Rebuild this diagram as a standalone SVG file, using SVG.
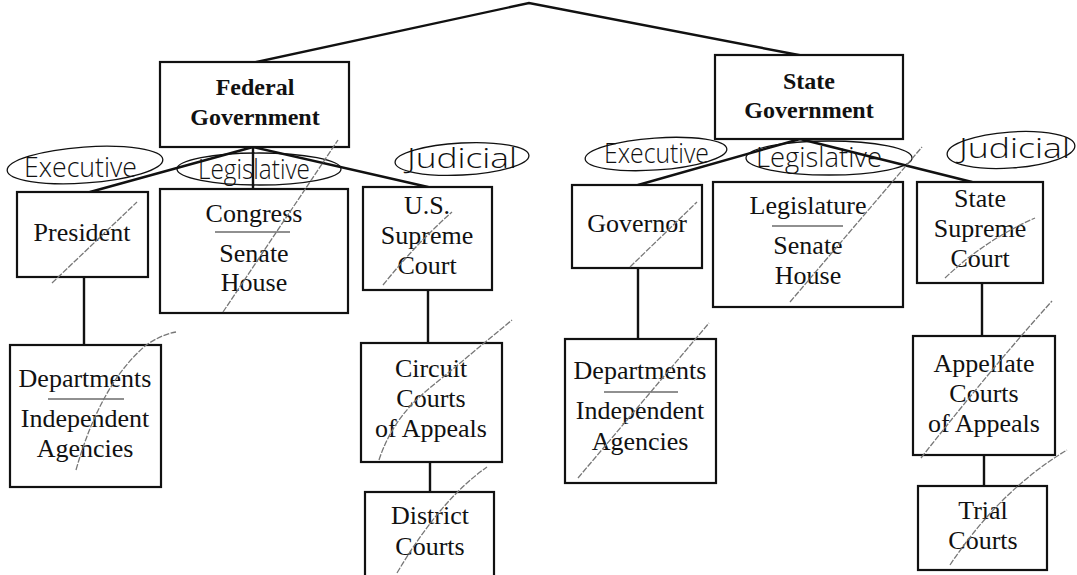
<svg xmlns="http://www.w3.org/2000/svg" width="1077" height="575" viewBox="0 0 1077 575">
<style>
.box{fill:#fff;stroke:#111;stroke-width:2.2}
.ln{stroke:#111;stroke-width:2.4;fill:none;stroke-linecap:round}
.t{font-family:"Liberation Serif","Times New Roman",serif;font-size:26px;fill:#111;text-anchor:middle}
.b{font-weight:bold;font-size:24px}
.div{stroke:#222;stroke-width:1.2}
.hand{font-family:"Open Sans","DejaVu Sans",sans-serif;font-weight:300;font-size:27px;fill:#111}
.ell{fill:none;stroke:#111;stroke-width:1.3}
.slash{fill:none;stroke:#777;stroke-width:1.3;stroke-dasharray:6 1.5}
</style>
<rect width="1077" height="575" fill="#fff"/>

<g id="connectors">
<polyline class="ln" points="252,63 529,3 804,56"/>
<line class="ln" x1="253" y1="147" x2="90" y2="192"/>
<line class="ln" x1="253" y1="147" x2="253" y2="189"/>
<line class="ln" x1="253" y1="147" x2="428" y2="187"/>
<line class="ln" x1="84" y1="277" x2="84" y2="345"/>
<line class="ln" x1="428" y1="290" x2="428" y2="343"/>
<line class="ln" x1="430" y1="462" x2="430" y2="492"/>
<line class="ln" x1="800" y1="139" x2="638" y2="185"/>
<line class="ln" x1="800" y1="139" x2="972" y2="182"/>
<line class="ln" x1="638" y1="268" x2="638" y2="339"/>
<line class="ln" x1="982" y1="283" x2="982" y2="336"/>
<line class="ln" x1="984" y1="455" x2="984" y2="486"/>
</g>

<g id="federal">
<rect class="box" x="160" y="62" width="189" height="85"/>
<text class="t b" x="255" y="95">Federal</text>
<text class="t b" x="255" y="125">Government</text>
</g>
<g id="state">
<rect class="box" x="715" y="55" width="188" height="84"/>
<text class="t b" x="809" y="89">State</text>
<text class="t b" x="809" y="118">Government</text>
</g>

<g id="label-fed-executive">
<ellipse class="ell" cx="85" cy="165" rx="78" ry="18" transform="rotate(-4 85 165)"/>
<text class="hand" x="24" y="177" textLength="113" lengthAdjust="spacingAndGlyphs">Executive</text>
</g>
<g id="label-fed-legislative">
<ellipse class="ell" cx="259" cy="169" rx="82" ry="16"/>
<text class="hand" x="198" y="179" textLength="112" lengthAdjust="spacingAndGlyphs">Legislative</text>
</g>
<g id="label-fed-judicial">
<ellipse class="ell" cx="462" cy="159" rx="67" ry="16" transform="rotate(-3 462 159)"/>
<text class="hand" x="407" y="168" textLength="110" lengthAdjust="spacingAndGlyphs">Judicial</text>
</g>
<g id="label-state-executive">
<ellipse class="ell" cx="656" cy="154" rx="71" ry="16" transform="rotate(-4 656 154)"/>
<text class="hand" x="604" y="163" textLength="105" lengthAdjust="spacingAndGlyphs">Executive</text>
</g>
<g id="label-state-legislative">
<ellipse class="ell" cx="829" cy="158" rx="83" ry="17"/>
<text class="hand" x="756" y="167" textLength="126" lengthAdjust="spacingAndGlyphs">Legislative</text>
</g>
<g id="label-state-judicial">
<ellipse class="ell" cx="1011" cy="150" rx="64" ry="18" transform="rotate(-4 1011 150)"/>
<text class="hand" x="959" y="158" textLength="111" lengthAdjust="spacingAndGlyphs">Judicial</text>
</g>

<g id="president">
<rect class="box" x="17" y="192" width="131" height="85"/>
<text class="t" x="82" y="241">President</text>
</g>
<g id="congress">
<rect class="box" x="160" y="189" width="188" height="124"/>
<text class="t" x="254" y="222">Congress</text>
<line class="div" x1="215" y1="232" x2="290" y2="232"/>
<text class="t" x="254" y="262">Senate</text>
<text class="t" x="254" y="291">House</text>
</g>
<g id="us-supreme-court">
<rect class="box" x="363" y="187" width="129" height="103"/>
<text class="t" x="427" y="214">U.S.</text>
<text class="t" x="427" y="244">Supreme</text>
<text class="t" x="427" y="274">Court</text>
</g>
<g id="fed-departments">
<rect class="box" x="10" y="345" width="151" height="142"/>
<text class="t" x="85" y="387">Departments</text>
<line class="div" x1="48" y1="399" x2="124" y2="399"/>
<text class="t" x="85" y="427">Independent</text>
<text class="t" x="85" y="457">Agencies</text>
</g>
<g id="circuit-courts">
<rect class="box" x="361" y="343" width="141" height="119"/>
<text class="t" x="431" y="377">Circuit</text>
<text class="t" x="431" y="407">Courts</text>
<text class="t" x="431" y="437">of Appeals</text>
</g>
<g id="district-courts">
<rect class="box" x="365" y="492" width="129" height="90"/>
<text class="t" x="430" y="524">District</text>
<text class="t" x="430" y="555">Courts</text>
</g>

<g id="governor">
<rect class="box" x="572" y="185" width="130" height="83"/>
<text class="t" x="637" y="232">Governor</text>
</g>
<g id="legislature">
<rect class="box" x="713" y="182" width="190" height="125"/>
<text class="t" x="808" y="214">Legislature</text>
<line class="div" x1="772" y1="226" x2="843" y2="226"/>
<text class="t" x="808" y="254">Senate</text>
<text class="t" x="808" y="284">House</text>
</g>
<g id="state-supreme-court">
<rect class="box" x="917" y="182" width="126" height="101"/>
<text class="t" x="980" y="207">State</text>
<text class="t" x="980" y="237">Supreme</text>
<text class="t" x="980" y="267">Court</text>
</g>
<g id="state-departments">
<rect class="box" x="565" y="339" width="151" height="144"/>
<text class="t" x="640" y="379">Departments</text>
<line class="div" x1="604" y1="392" x2="678" y2="392"/>
<text class="t" x="640" y="419">Independent</text>
<text class="t" x="640" y="450">Agencies</text>
</g>
<g id="appellate-courts">
<rect class="box" x="913" y="336" width="142" height="119"/>
<text class="t" x="984" y="372">Appellate</text>
<text class="t" x="984" y="402">Courts</text>
<text class="t" x="984" y="432">of Appeals</text>
</g>
<g id="trial-courts">
<rect class="box" x="918" y="486" width="129" height="84"/>
<text class="t" x="983" y="519">Trial</text>
<text class="t" x="983" y="549">Courts</text>
</g>

<g id="check-marks">
<path class="slash" d="M52,283 L137,202"/>
<path class="slash" d="M223,312 L338,140"/>
<path class="slash" d="M383,285 Q415,245 452,212"/>
<path class="slash" d="M630,267 L697,202"/>
<path class="slash" d="M790,302 L922,147"/>
<path class="slash" d="M945,278 Q985,240 1035,218"/>
<path class="slash" d="M76,470 Q100,385 145,346 Q160,335 176,332"/>
<path class="slash" d="M379,460 Q392,420 425,392 L512,320"/>
<path class="slash" d="M397,573 Q440,500 487,467"/>
<path class="slash" d="M578,478 L709,323"/>
<path class="slash" d="M921,458 Q990,370 1052,301"/>
<path class="slash" d="M950,565 Q1000,490 1067,450"/>
</g>
</svg>
